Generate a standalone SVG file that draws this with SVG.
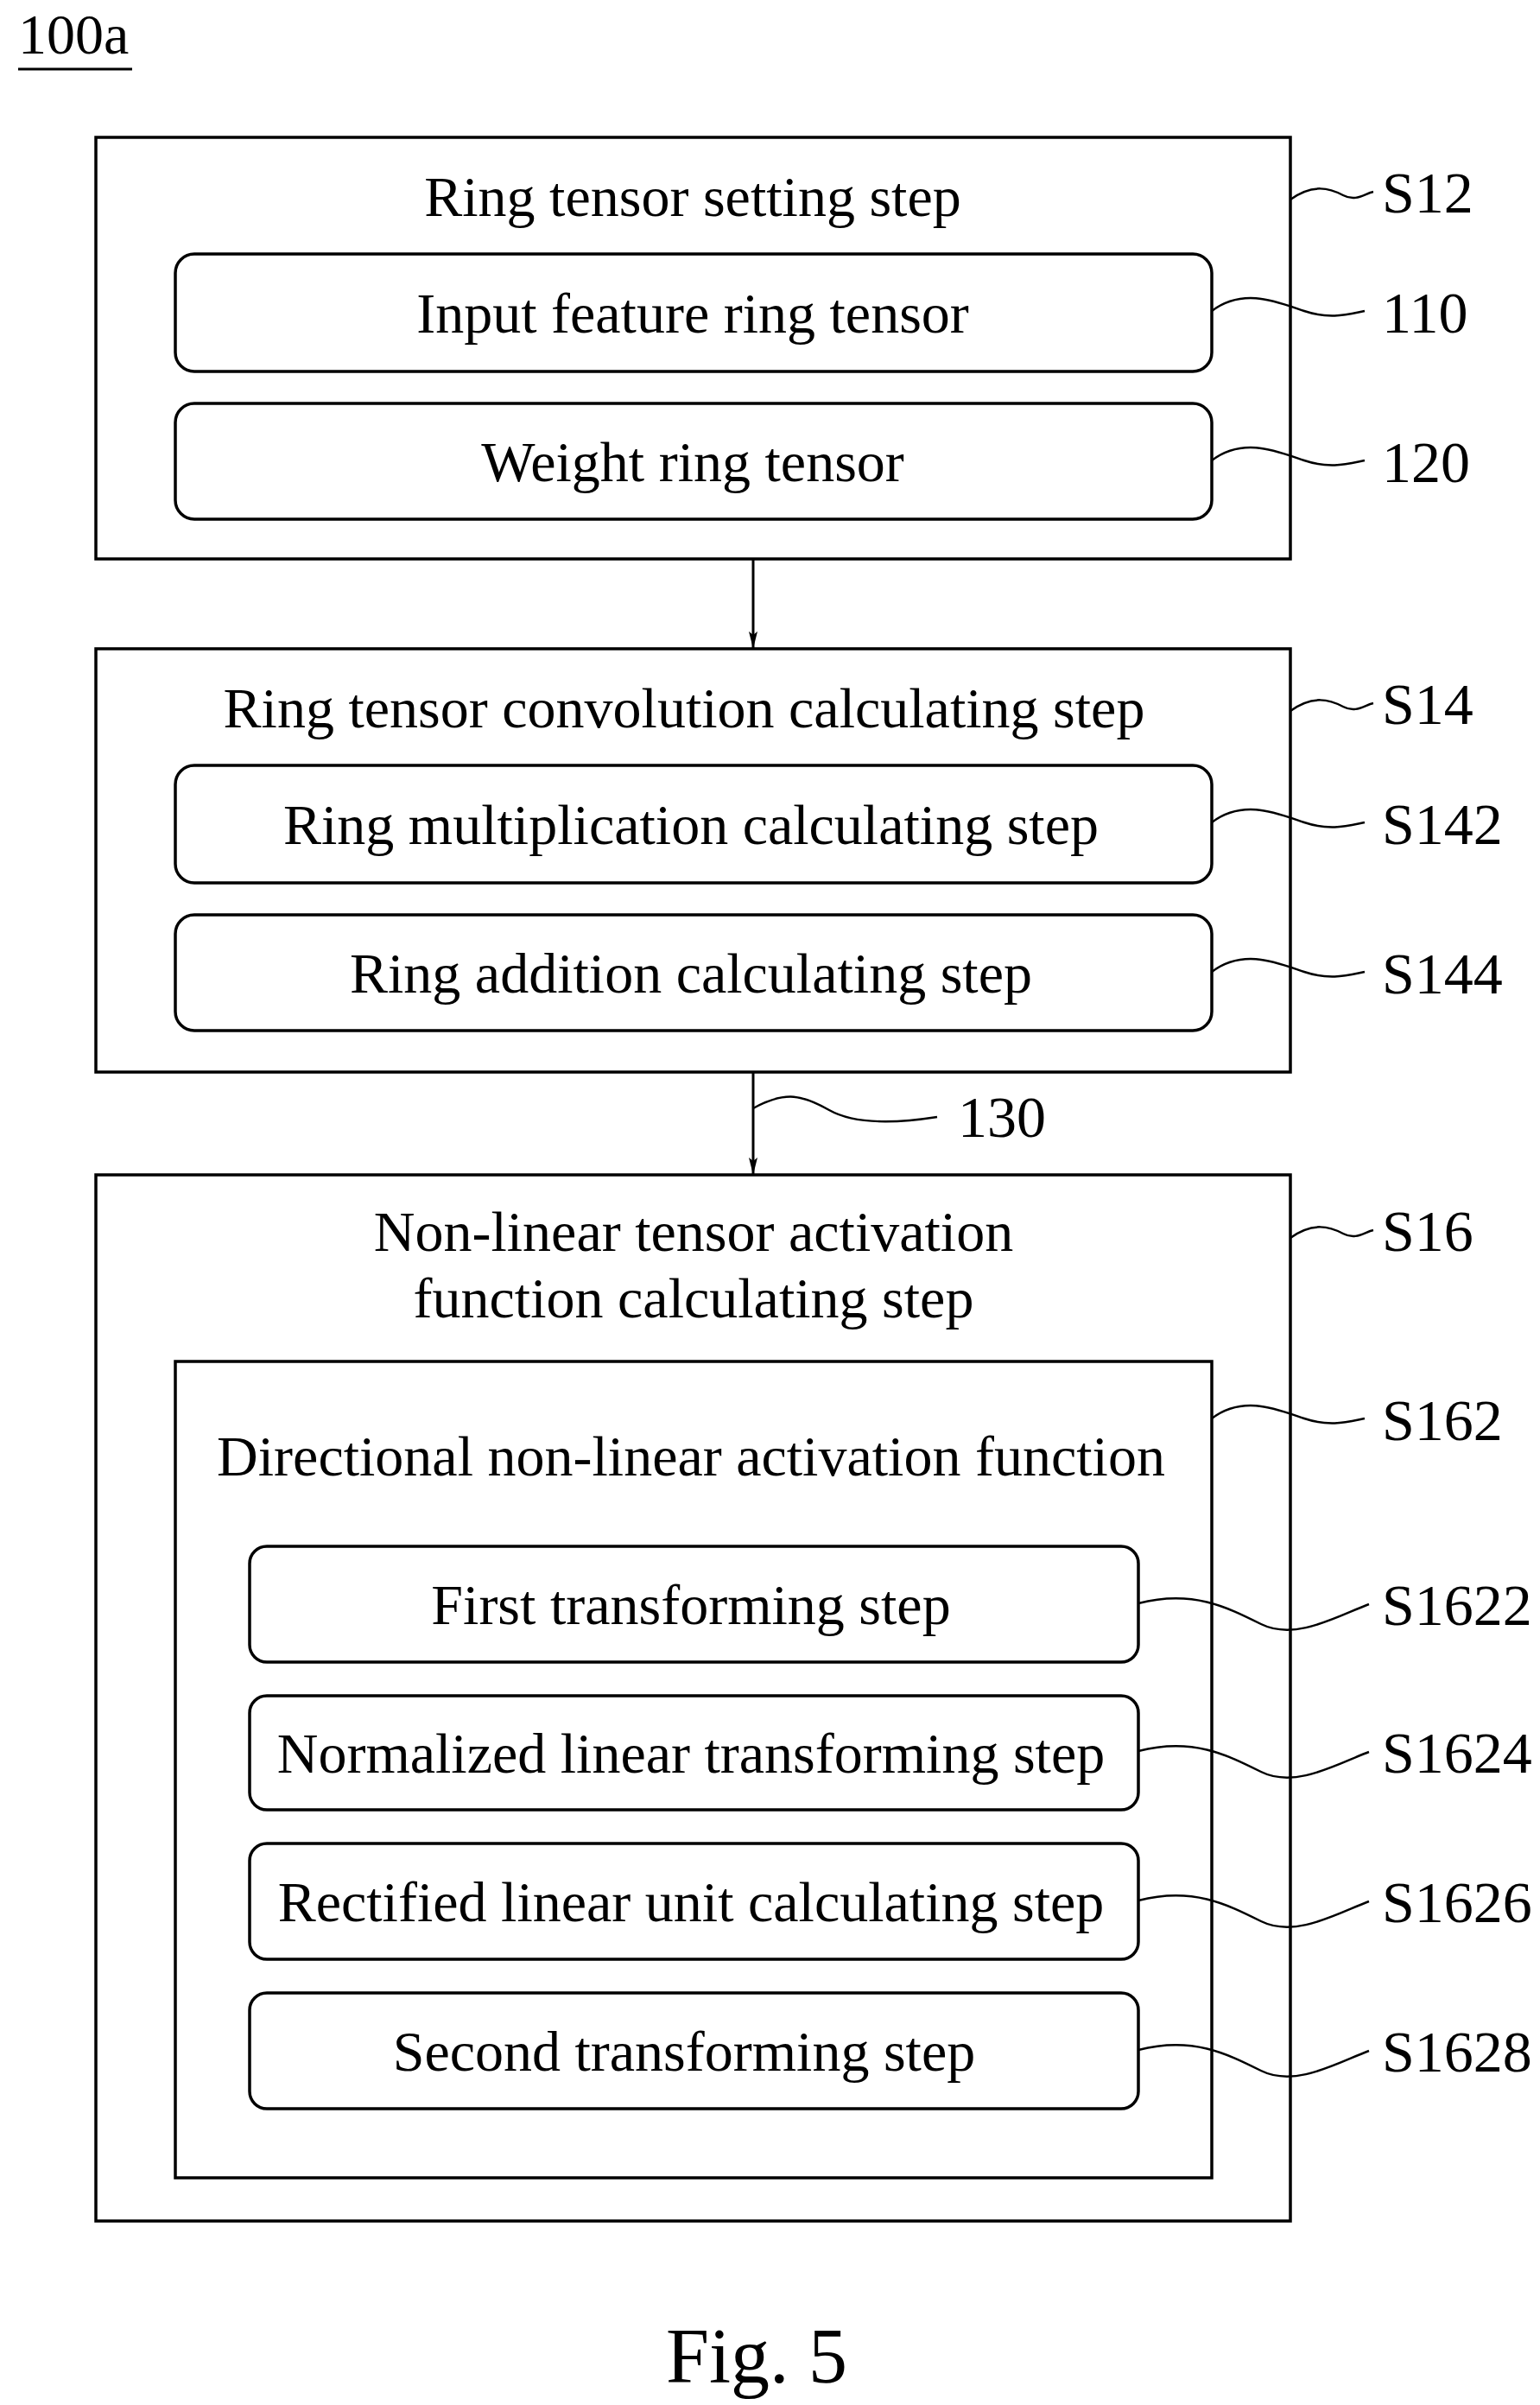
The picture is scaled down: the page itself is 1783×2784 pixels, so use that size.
<svg xmlns="http://www.w3.org/2000/svg" width="1783" height="2784" viewBox="0 0 1783 2784">
<style>
text{font-family:"Liberation Serif","Times New Roman",serif;fill:#000}
.t{font-size:66px;text-anchor:middle}
.l{font-size:68px}
.b{fill:none;stroke:#000;stroke-width:3.5}
.s{fill:none;stroke:#000;stroke-width:2.5}
</style>
<defs>
<marker id="ar" markerWidth="20" markerHeight="40" refX="40" refY="10" orient="auto" markerUnits="userSpaceOnUse" viewBox="0 0 40 20"><path d="M0,0 L40,10 L0,20 L8,10 Z" fill="#000"/></marker></defs>
<text x="21" y="62" style="font-size:66px">100a</text>
<line x1="21" y1="80" x2="153" y2="80" stroke="#000" stroke-width="3"/>
<g id="S12"><rect class="b" x="111" y="159" width="1383" height="488"/><text class="t" x="802" y="250">Ring tensor setting step</text></g>
<g id="n110"><rect class="b" x="203" y="294" width="1200" height="136" rx="22"/><text class="t" x="802" y="385">Input feature ring tensor</text></g>
<g id="n120"><rect class="b" x="203" y="467" width="1200" height="134" rx="22"/><text class="t" x="802" y="557">Weight ring tensor</text></g>
<g id="S14"><rect class="b" x="111" y="751" width="1383" height="490"/><text class="t" x="792" y="842">Ring tensor convolution calculating step</text></g>
<g id="S142"><rect class="b" x="203" y="886" width="1200" height="136" rx="22"/><text class="t" x="800" y="977">Ring multiplication calculating step</text></g>
<g id="S144"><rect class="b" x="203" y="1059" width="1200" height="134" rx="22"/><text class="t" x="800" y="1149">Ring addition calculating step</text></g>
<g id="S16"><rect class="b" x="111" y="1360" width="1383" height="1211"/><text class="t" x="803" y="1448">Non-linear tensor activation</text><text class="t" x="803" y="1525">function calculating step</text></g>
<g id="S162"><rect class="b" x="203" y="1576" width="1200" height="945"/><text class="t" x="800" y="1708">Directional non-linear activation function</text></g>
<g id="S1622"><rect class="b" x="289" y="1790" width="1029" height="134" rx="20"/><text class="t" x="800" y="1880">First transforming step</text></g>
<g id="S1624"><rect class="b" x="289" y="1963" width="1029" height="132" rx="20"/><text class="t" x="800" y="2052">Normalized linear transforming step</text></g>
<g id="S1626"><rect class="b" x="289" y="2134" width="1029" height="134" rx="20"/><text class="t" x="800" y="2224">Rectified linear unit calculating step</text></g>
<g id="S1628"><rect class="b" x="289" y="2307" width="1029" height="134" rx="20"/><text class="t" x="792" y="2397">Second transforming step</text></g>
<g id="connectors">
<line x1="872" y1="647" x2="872" y2="751" stroke="#000" stroke-width="3" marker-end="url(#ar)"/>
<line x1="872" y1="1241" x2="872" y2="1360" stroke="#000" stroke-width="3" marker-end="url(#ar)"/>
<path class="s" d="M872,1283 C910,1262 930,1268 960,1285 S1040,1300 1085,1293"/>
<path class="s" d="M1494,231 C1520,212 1540,218 1555,226 S1580,224 1590,222"/>
<path class="s" d="M1403,360 C1440,332 1480,350 1510,360 S1560,364 1580,360"/>
<path class="s" d="M1403,533 C1440,505 1480,523 1510,533 S1560,537 1580,533"/>
<path class="s" d="M1494,823 C1520,804 1540,810 1555,818 S1580,816 1590,814"/>
<path class="s" d="M1403,952 C1440,924 1480,942 1510,952 S1560,956 1580,952"/>
<path class="s" d="M1403,1125 C1440,1097 1480,1115 1510,1125 S1560,1129 1580,1125"/>
<path class="s" d="M1494,1433 C1520,1414 1540,1420 1555,1428 S1580,1426 1590,1424"/>
<path class="s" d="M1403,1642 C1440,1614 1480,1632 1510,1642 S1560,1646 1580,1642"/>
<path class="s" d="M1318,1856 C1380,1840 1420,1860 1460,1880 S1550,1870 1585,1857"/>
<path class="s" d="M1318,2027 C1380,2011 1420,2031 1460,2051 S1550,2041 1585,2028"/>
<path class="s" d="M1318,2200 C1380,2184 1420,2204 1460,2224 S1550,2214 1585,2201"/>
<path class="s" d="M1318,2373 C1380,2357 1420,2377 1460,2397 S1550,2387 1585,2374"/>
</g>
<g id="labels">
<text class="l" x="1600" y="246">S12</text>
<text class="l" x="1600" y="385">110</text>
<text class="l" x="1600" y="558">120</text>
<text class="l" x="1600" y="838">S14</text>
<text class="l" x="1600" y="977">S142</text>
<text class="l" x="1600" y="1150">S144</text>
<text class="l" x="1600" y="1448">S16</text>
<text class="l" x="1600" y="1667">S162</text>
<text class="l" x="1600" y="1881">S1622</text>
<text class="l" x="1600" y="2052">S1624</text>
<text class="l" x="1600" y="2225">S1626</text>
<text class="l" x="1600" y="2398">S1628</text>
<text class="l" x="1109" y="1316">130</text>
</g>
<text x="876" y="2758" style="font-size:90px;text-anchor:middle">Fig. 5</text>
</svg>
